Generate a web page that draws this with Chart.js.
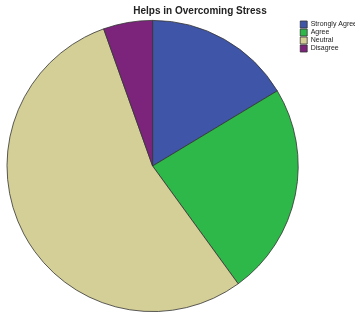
<!DOCTYPE html>
<html><head><meta charset="utf-8">
<style>html,body{margin:0;padding:0;background:#fff}#wrap{width:355px;height:316px;position:relative}</style>
<script src="https://cdn.jsdelivr.net/npm/chart.js@4"></script>
</head><body><div id="wrap"><canvas id="c" width="355" height="316"></canvas></div>
<script>
const categories = ["Strongly Agree", "Agree", "Neutral", "Disagree"];
const counts = [9, 13, 30, 3];
const colors = ["#3f56a8", "#2fb84a", "#d4cf97", "#7c247b"];
const titleText = "Helps in Overcoming Stress";

const titlePlugin = {
  id: 'customTitle',
  afterDraw(chart) {
    const ctx = chart.ctx;
    ctx.save();
    ctx.font = "bold 10px 'Liberation Sans', Arial, sans-serif";
    ctx.fillStyle = "#222";
    ctx.textAlign = "center";
    ctx.textBaseline = "middle";
    ctx.fillText(titleText, 200, 11);
    ctx.restore();
  }
};

new Chart(document.getElementById('c'), {
  type: 'pie',
  data: { labels: categories, datasets: [{ data: counts, backgroundColor: colors, borderColor: "#333", borderWidth: 0.8 }] },
  options: {
    responsive: false, animation: false,
    layout: { padding: { top: 20, left: 6, right: -12, bottom: 4 } },
    plugins: {
      title: { display: false },
      tooltip: { enabled: false },
      legend: {
        position: 'right', align: 'start',
        labels: { boxWidth: 7, boxHeight: 7, padding: 1, color: "#222",
          font: { size: 7, family: "'Liberation Sans', Arial, sans-serif" } }
      }
    }
  },
  plugins: [titlePlugin]
});
</script></body></html>
